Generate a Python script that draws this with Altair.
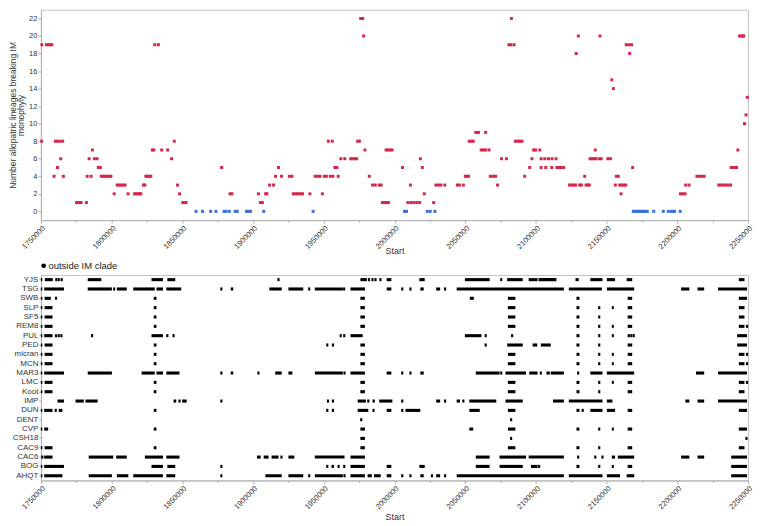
import altair as alt
import pandas as pd

# ---------------- top panel: window start (kb) per number of lineages breaking IM monophyly
n0 = [1859.7, 1864.3, 1870, 1873.7, 1879.5, 1880.9, 1883.2, 1887.4, 1888.8, 1895.4, 1896.8, 1898.2,
      1907.6, 1942.5, 2007.1, 2008.5, 2023.2, 2025.3, 2028.6, 2168.9, 2170, 2171.1, 2172.1, 2173.2,
      2174.2, 2175.3, 2176.3, 2177.4, 2178.8, 2183.3, 2190.1, 2193.6, 2195.7, 2197, 2198, 2202]
n1 = [1775.2, 1776.3, 1777.3, 1778.4, 1782.2, 1850.3, 1851.5, 1852.7, 1905.2, 1906.6, 1991.5, 1992.9,
      1994.3, 1995.7, 2009.5, 2011.6, 2013.7, 2015.8, 2017.9, 2027.7]
n2 = [1801.8, 1811.6, 1816.2, 1817.3, 1818.5, 1819.7, 1820.7, 1848, 1883.7, 1885.1, 1903.8, 1908.9,
      1909.8, 1928.5, 1930.1, 1931.8, 1933.4, 1935, 1940.2, 1949, 2021.1, 2160.2, 2202.2, 2203.8, 2205.5]
n3 = [1803.9, 1805.3, 1806.7, 1808.1, 1809.5, 1822.5, 1823.5, 1846.6, 1911.7, 1914.5, 1984.5, 1986.4,
      1989.2, 1990.6, 2011.3, 2029.3, 2031.1, 2032.8, 2035.6, 2044.5, 2045.9, 2048.7, 2072.9, 2123.8,
      2125.2, 2126.6, 2128, 2131, 2132.2, 2135.5, 2136.6, 2137.8, 2156.2, 2159.3, 2160.7, 2162.1,
      2163.5, 2205.9, 2208.3, 2229.3, 2230.9, 2232.5, 2234.2, 2235.8, 2237.7]
n4 = [1759.3, 1765.9, 1782.7, 1785.5, 1792.7, 1794.1, 1795.5, 1796.9, 1798.3, 1799.5, 1824.2, 1825.5,
      1826.7, 1827.7, 1915.9, 1920.1, 1925.7, 1927.6, 1943.9, 1945.7, 1947.4, 1950.4, 1951.8, 1954.6,
      1956.5, 1960.2, 1982.2, 2050.1, 2051.2, 2052.4, 2067.8, 2069.7, 2071.5, 2092.1, 2134.5, 2156.9,
      2158.3, 2213.9, 2215.5, 2217.3, 2219]
n5 = [1761.7, 1790.6, 1792, 1877.8, 1918, 1957.9, 1959.3, 2005.7, 2019.7, 2095.6, 2103.7, 2107, 2111.2,
      2114.9, 2116.5, 2118, 2119.6, 2168.4, 2238.1, 2239.5, 2240.9, 2241.9]
n6 = [1764, 1784.1, 1787.8, 1789.7, 1842.4, 1962.1, 1964.9, 1969.1, 1970.5, 1971.9, 1973.3, 2018.3,
      2075.7, 2079.2, 2097.2, 2103.7, 2106.3, 2108.9, 2111.4, 2114.2, 2138.3, 2139.7, 2141.1, 2142.5,
      2144.8, 2146.2, 2150.9, 2152.7]
n7 = [1786.4, 1828.8, 1829.8, 1835.4, 1839.6, 1979.1, 1994.1, 1995.5, 1996.9, 1998.3, 2061.3, 2062.9,
      2064.5, 2066.9, 2098.4, 2099.8, 2102.8, 2142, 2242.8]
n8 = [1750.5, 1760.2, 1761.6, 1763.3, 1765.4, 1844.3, 1953.2, 1956, 1974, 1975.2, 2052.9, 2054.3,
      2055.7, 2085.5, 2087.1, 2088.6, 2090.2]
n9 = [2057.5, 2059.4, 2064.5]
n10 = [2247.5]
n11 = [2248.6]
n13 = [2249.5]
n14 = [2154.8]
n15 = [2153.7]
n18 = [2128.5, 2166.3]
n19 = [1750.7, 1753.9, 1755.3, 1756.7, 1757.7, 1830.5, 1833.1, 2080.9, 2082.3, 2084.6, 2163.9,
       2165.8, 2167.7]
n20 = [1978.2, 2130, 2145.3, 2244, 2245.3, 2246.3, 2247]
n22 = [1976.1, 1977.5, 2082.7]

counts = {0: n0, 1: n1, 2: n2, 3: n3, 4: n4, 5: n5, 6: n6, 7: n7, 8: n8, 9: n9, 10: n10,
          11: n11, 13: n13, 14: n14, 15: n15, 18: n18, 19: n19, 20: n20, 22: n22}

# ---------------- bottom panel: lineages outside IM clade; [start, end] runs in kb, single numbers = one window
lineages = ["YJS", "TSG", "SWB", "SLP", "SF5", "REM8", "PUL", "PED", "micran", "MCN", "MAR3", "LMC",
            "Koot", "IMP", "DUN", "DENT", "CVP", "CSH18", "CAC9", "CAC6", "BOG", "AHQT"]

YJS = [[1750, 1751], [1752.8, 1758.4], 1760.9, 1762.6, 1764.7, [1783.1, 1792.7], [1828.2, 1836.3],
       [1839.4, 1845], 1918, [1975.9, 1980.5], 1982, 1984.5, 1986.6, 1990.1, [1994.5, 1997.8],
       [2017.6, 2021.4], [2049.8, 2067.3], 2075.5, [2079.7, 2090.7], [2094.9, 2101.2], [2101.9, 2114.5],
       [2128, 2130.3], [2138.5, 2147.1], [2150.2, 2156], [2164.2, 2168.1], [2243.5, 2247.5]]
TSG = [[1750, 1751], [1752.3, 1766.3], [1783.1, 1800.2], 1801.8, [1803.7, 1810.7], [1815.3, 1830.5],
       [1831.7, 1836.3], [1838.7, 1849.2], 1877.6, [1884.2, 1886], [1911.5, 1920.3], [1925, 1935.5],
       1939.7, [1943.7, 1963.5], 1964.4, [1968.9, 1979.1], [1994.5, 1997.8], 2005.5, 2011.3,
       [2018.3, 2020.7], [2029.5, 2032.3], 2035.8, [2044, 2119.8], [2123.3, 2146.7], [2150.2, 2169.5],
       [2202.7, 2208.5], [2214.3, 2219], [2228.8, 2249.3]]
SWB = [[1750, 1751], [1752.6, 1757], 1760.7, [1829.8, 1831.7], [1975.9, 1979.1], [2053.3, 2056.1],
       [2080.2, 2085.5], [2128.7, 2130.8], [2164.9, 2168.1], [2243.5, 2249.3]]
SLP = [[1750, 1751], [1752.6, 1758.2], [1829.8, 1831.7], [1975.9, 1979.1], [2080.2, 2085.5],
       [2128.7, 2130.8], 2144.8, [2153.7, 2155.1], [2164.9, 2168.1], [2243.5, 2247.5]]
SF5 = [[1750, 1751], [1752.6, 1758.2], [1829.8, 1831.7], [1975.9, 1979.1], [2080.2, 2085.5],
       [2128.7, 2130.8], 2144.8, [2164.9, 2168.1], [2243.5, 2247.5]]
REM8 = [[1750, 1751], [1752.6, 1758.2], [1829.8, 1831.7], [1975.9, 1979.1], [2080.2, 2085.5],
        [2128.7, 2130.8], 2144.8, [2153.7, 2155.1], [2164.9, 2168.1], [2243.5, 2247.5], 2249.3]
PUL = [[1750, 1751], [1752.3, 1758.2], 1760.7, 1762.6, 1764.5, 1786.2, [1828.2, 1836.3], 1839.4,
       1843.8, 1962, 1964.5, [1968.9, 1977.5], [2049.8, 2061.5], 2064.5, 2083.2, [2128.7, 2130.8],
       2144.8, [2153.7, 2155.1], [2164.9, 2166.5], 2167.5, 2169.2, [2242.3, 2249.3]]
PED = [[1750, 1751], [1752.6, 1758.2], [1829.8, 1831.7], 1952.5, 1956.5, [1975.9, 1979.1], 2064.5,
       [2079.7, 2090.7], [2097.7, 2101], [2103.5, 2110.5], [2128.7, 2130.8], 2144.8, [2164.9, 2168.1],
       [2242.3, 2249.3]]
micran = [[1750, 1751], [1752.6, 1758.2], [1829.8, 1831.7], [1975.9, 1979.1], [2080.2, 2085.5],
          [2128.7, 2130.8], 2144.8, [2153.7, 2155.1], [2164.9, 2168.1], [2243.5, 2247.5], 2249.3]
MCN = [[1750, 1751], [1752.6, 1758.2], [1829.8, 1831.7], [1975.9, 1979.1], [2080.2, 2085.5],
       [2128.7, 2130.8], 2144.8, [2153.7, 2155.1], [2164.9, 2168.1], [2243.5, 2247.5], 2249.3]
MAR3 = [[1750, 1751], [1752.3, 1766.3], [1783.1, 1800.2], [1821.2, 1830.5], [1831.7, 1836.3],
        [1838.7, 1848], 1877.6, [1884.2, 1886], 1903.8, [1915.7, 1920.3], [1925, 1927.8],
        [1943.7, 1963.5], 1964.7, [1968.9, 1979.1], [1994.5, 1997.8], 2005.5, 2011.3, [2018.3, 2020.7],
        [2057.5, 2074.3], 2075.5, [2078.5, 2093], [2095.3, 2101.2], 2103.5, [2107.5, 2109.8],
        [2110.5, 2119.8], 2129.9, [2138.5, 2147.1], [2150.2, 2169.5], [2213.2, 2219], [2228.8, 2249.3]]
LMC = [[1750, 1751], [1752.6, 1758.2], [1829.8, 1831.7], [1975.9, 1979.1], [2080.2, 2085.5],
       [2128.7, 2130.8], 2144.8, [2153.7, 2155.1], [2164.9, 2168.1], [2243.5, 2247.5], 2249.3]
Koot = [[1750, 1751], [1752.6, 1758.2], [1829.8, 1831.7], [1975.9, 1979.1], [2080.2, 2085.5],
        [2128.7, 2130.8], 2144.8, [2164.9, 2168.1], [2243.5, 2247.5]]
IMP = [[1761.7, 1766.3], [1774.5, 1780.3], [1781.5, 1790.1], [1843.8, 1845.7], 1848, [1849.9, 1853.1],
       1877.6, 1953, 1956.5, [1974, 1979.8], 1981.5, [1984.5, 1986.1], [1989.2, 1998.5], 2005.5,
       [2029.5, 2032.3], 2035.8, [2044, 2046.3], 2048.7, [2052.9, 2072], [2078.5, 2090.7],
       [2112.1, 2119.8], [2123.3, 2147.1], [2150.2, 2154.1], [2205.7, 2208.5], [2214.3, 2219],
       [2228.8, 2249.3]]
DUN = [[1750, 1751], [1752.3, 1758.2], 1760.5, [1762.6, 1765.2], [1829.8, 1831.7], 1952.5, 1956.5,
       [1974, 1981.5], 1985.2, [1994.5, 1997.8], 2005.5, [2007.8, 2018.3], [2052.9, 2060.3],
       [2080.2, 2085.5], [2128.7, 2130.8], 2133.1, [2138.5, 2147.1], [2150.2, 2156], [2164.9, 2168.1],
       [2243.5, 2249.3]]
DENT = [1976.5, 2082.5]
CVP = [[1750, 1751], [1752.3, 1755.1], [1829.8, 1831.7], [1975.9, 1979.1], [2052.9, 2055.7],
       [2080.2, 2085.5], [2128.7, 2130.8], 2144.8, [2153.7, 2155.1], [2164.9, 2168.1], [2243.5, 2249.3]]
CSH18 = [[1975.9, 1979.1], 2082.5, 2248.9]
CAC9 = [[1750, 1751], [1752.6, 1758.2], [1829.8, 1831.7], [1975.9, 1979.1], [2080.2, 2085.5],
        [2128.7, 2130.8], 2144.8, [2164.9, 2168.1], [2243.5, 2247.5]]
CAC6 = [1751, [1752.3, 1758.2], [1783.8, 1801.1], [1803.2, 1810.7], [1823.5, 1836.3], [1838.7, 1848],
        [1902.8, 1905.4], [1907.5, 1911], [1913.1, 1918], 1920.1, [1925, 1929.2], [1943.7, 1964.7],
        [1968.9, 1979.1], [2057.5, 2067.3], [2074.3, 2093], [2094.9, 2119.8], 2129.9, 2142, 2147.1,
        [2153.7, 2156], [2157.9, 2169.5], [2202.7, 2208.5], [2214.3, 2219], [2238.1, 2249.3]]
BOG = [[1750, 1751], [1752.3, 1766.3], [1828.2, 1836.3], [1839.4, 1845], 1877.6, 1952.5,
       [1955.5, 1957.2], 1960.5, 1964.5, [1968.9, 1979.1], [1994.5, 1997.8], [2017.6, 2021.4],
       [2057.5, 2067.3], [2074.3, 2090.7], [2096.5, 2101.2], 2102.3, [2128.7, 2130.8], 2144.8,
       [2153.7, 2155.1], [2164.9, 2168.1], [2238.1, 2249.3]]
AHQT = [[1750, 1751], [1752.3, 1765.2], [1783.8, 1800.2], [1803.7, 1811.8], [1815.3, 1836.3],
        [1838.7, 1845], 1877.6, [1908.7, 1920.3], [1925, 1935.5], 1939.7, [1943.7, 1963.5], 1964.7,
        [1968.9, 1979.1], [1981, 1984], [1985.5, 1990.3], [1994.5, 1997.8], 2005.5, 2011.3,
        [2018.3, 2020.7], 2026.5, [2029.5, 2032.3], 2035.8, [2044, 2119.8], [2123.3, 2147.1],
        [2150.2, 2159.5], [2164.2, 2169.5], [2238.1, 2249.3]]

runs = {"YJS": YJS, "TSG": TSG, "SWB": SWB, "SLP": SLP, "SF5": SF5, "REM8": REM8, "PUL": PUL,
        "PED": PED, "micran": micran, "MCN": MCN, "MAR3": MAR3, "LMC": LMC, "Koot": Koot, "IMP": IMP,
        "DUN": DUN, "DENT": DENT, "CVP": CVP, "CSH18": CSH18, "CAC9": CAC9, "CAC6": CAC6, "BOG": BOG,
        "AHQT": AHQT}

x_ticks = list(range(1750000, 2250001, 25000))   # labelled every 50000, minor in between
y_ticks = list(range(0, 23, 2))

# ---------------- build tables
top_rows = []
for c, xs in counts.items():
    for kb in xs:
        top_rows.append({"Start": kb * 1000, "Count": c, "Zero": "yes" if c == 0 else "no"})
df_top = pd.DataFrame(top_rows)

HALF = 0.75  # half window width for a single window (kb) - drawing size only
bot_rows = []
for lin, segs in runs.items():
    for s in segs:
        if isinstance(s, list):
            a, b = s
        else:
            a, b = s - HALF, s + HALF
        bot_rows.append({"Lineage": lin, "S": a * 1000, "E": b * 1000, "Kind": "outside IM clade"})
df_bot = pd.DataFrame(bot_rows)

xscale = alt.Scale(domain=[1750000, 2250000], nice=False, zero=False)
W = 709

def xaxis(title_y):
    return alt.Axis(values=x_ticks, labelAngle=-45, format="d", title="Start", grid=False,
                    labelExpr="datum.value % 50000 === 0 ? datum.label : ''",
                    labelFontSize=7.5, titleFontSize=9, titleY=title_y, titleBaseline="middle",
                    tickSize={"condition": {"test": "datum.value % 50000 !== 0", "value": 2}, "value": 3},
                    labelPadding=1)

top = alt.Chart(df_top).mark_square(size=9, opacity=1).encode(
    x=alt.X("Start:Q", scale=xscale, axis=xaxis(30)),
    y=alt.Y("Count:Q", scale=alt.Scale(domain=[-1, 23], nice=False),
            axis=alt.Axis(values=y_ticks, grid=False, tickSize=3, labelFontSize=7.5, titleFontSize=8.5,
                          titleLineHeight=8, labelPadding=1,
                          title=["Number allopatric lineages breaking IM", "monophyly"], titlePadding=3)),
    color=alt.Color("Zero:N", scale=alt.Scale(domain=["yes", "no"], range=["#3b6fd8", "#d3284b"]),
                    legend=None),
).properties(width=W, height=211)

bottom = alt.Chart(df_bot).mark_bar(size=3.1).encode(
    x=alt.X("S:Q", scale=xscale, axis=xaxis(36)),
    x2="E:Q",
    y=alt.Y("Lineage:N", sort=lineages, scale=alt.Scale(paddingInner=0, paddingOuter=0),
            axis=alt.Axis(title=None, labelFontSize=8, tickSize=2, labelPadding=1)),
    color=alt.Color("Kind:N", scale=alt.Scale(domain=["outside IM clade"], range=["#000000"]),
                    legend=alt.Legend(title=None, orient="none", legendX=-2, legendY=-14,
                                      symbolType="circle", symbolSize=22, labelFontSize=9.5,
                                      labelOffset=0, padding=0)),
).properties(width=W, height=206)

chart = alt.vconcat(top, bottom, spacing=4, padding=0).resolve_scale(
    color="independent"
).configure(
    font="Liberation Sans"
).configure_view(
    stroke="#c4c4c4", strokeWidth=1
).configure_axis(
    labelColor="#333333", titleColor="#333333", domainColor="#b0b0b0", tickColor="#b0b0b0",
    titleFontWeight="normal", labelFont="Liberation Sans", titleFont="Liberation Sans"
).configure_legend(
    labelColor="#222222", labelFont="Liberation Sans"
)

chart.save("out.html", embed_options={"renderer": "svg", "actions": False})
